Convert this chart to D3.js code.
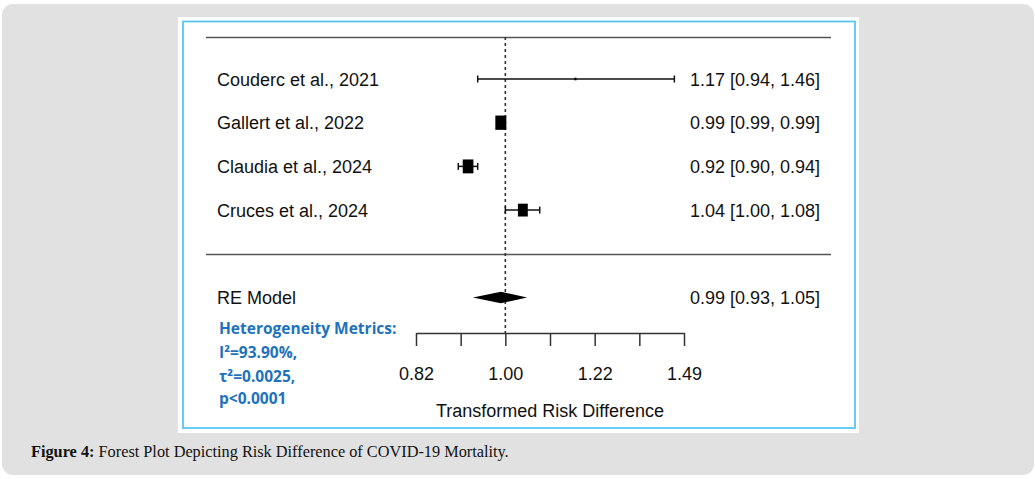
<!DOCTYPE html>
<html>
<head>
<meta charset="utf-8">
<script src="https://cdn.jsdelivr.net/npm/d3@7"></script>
<style>
    body { margin: 0; background: #ffffff; }
    svg { display: block; }
</style>
</head>
<body>
<svg width="1035" height="479"></svg>
<script>
var studies = ['Couderc et al., 2021', 'Gallert et al., 2022', 'Claudia et al., 2024', 'Cruces et al., 2024'];
var estimates = [1.17, 0.99, 0.92, 1.04];
var lowers = [0.94, 0.99, 0.90, 1.00];
var uppers = [1.46, 0.99, 0.94, 1.08];
var weights = [1, 36, 34, 29];
var studyLabels = ['1.17 [0.94, 1.46]', '0.99 [0.99, 0.99]', '0.92 [0.90, 0.94]', '1.04 [1.00, 1.08]'];

var reModel = {label: 'RE Model', est: 0.99, lower: 0.93, upper: 1.05, text: '0.99 [0.93, 1.05]'};
var logTicks = [-0.2, -0.1, 0, 0.1, 0.2, 0.3, 0.4];
var labelledTicks = [-0.2, 0, 0.2, 0.4];
var hetLines = ['Heterogeneity Metrics:', 'I\u00b2=93.90%,', '\u03c4\u00b2=0.0025,', 'p<0.0001'];

var svg = d3.select('svg');
var FONT = 'Liberation Sans, Arial, sans-serif';

// background panels
svg.append('rect')
    .attr('x', 2).attr('y', 4).attr('width', 1032).attr('height', 471)
    .attr('rx', 11).attr('fill', '#e1e1e1');
svg.append('rect')
    .attr('x', 178).attr('y', 17).attr('width', 681).attr('height', 416)
    .attr('fill', '#ffffff');
svg.append('rect')
    .attr('x', 183).attr('y', 21.5).attr('width', 672).attr('height', 406.5)
    .attr('fill', 'none').attr('stroke', '#55c7f3').attr('stroke-width', 1.8);

var x = d3.scaleLog()
    .domain([Math.exp(-0.2), Math.exp(0.4)])
    .range([416, 684]);
var y = d3.scaleLinear()
    .domain([0, 5])
    .range([79, 297.5]);
var size = d3.scaleSqrt()
    .domain([0, 36])
    .range([0, 11]);

// horizontal rules
[-0.96, 4].forEach(function (r) {
    var yy = Math.round(y(r)) + 0.5;
    svg.append('line')
        .attr('x1', 206).attr('x2', 831)
        .attr('y1', yy).attr('y2', yy)
        .attr('stroke', '#555').attr('stroke-width', 1.5);
});

// reference line at 1
svg.append('line')
    .attr('x1', x(1)).attr('x2', x(1))
    .attr('y1', 37).attr('y2', 333)
    .attr('stroke', '#333').attr('stroke-width', 1.6)
    .attr('stroke-dasharray', '3,3');

var rows = studies.map(function (s, i) {
    return {name: s, est: estimates[i], lo: lowers[i], hi: uppers[i], w: weights[i], text: studyLabels[i], i: i};
});

var g = svg.selectAll('g.row')
    .data(rows)
    .enter()
    .append('g')
    .attr('class', 'row');

g.append('text')
    .attr('x', 217)
    .attr('y', function (d) { return y(d.i) + 6.5; })
    .style('font-family', FONT).style('font-size', '18px').attr('fill', '#111')
    .text(function (d) { return d.name; });

g.append('text')
    .attr('x', 820)
    .attr('y', function (d) { return y(d.i) + 6.5; })
    .attr('text-anchor', 'end')
    .style('font-family', FONT).style('font-size', '18px').attr('fill', '#111')
    .text(function (d) { return d.text; });

// confidence intervals with end caps
g.filter(function (d) { return d.hi > d.lo; })
    .each(function (d) {
        var el = d3.select(this);
        var yy = y(d.i);
        el.append('line')
            .attr('x1', x(d.lo)).attr('x2', x(d.hi))
            .attr('y1', yy).attr('y2', yy)
            .attr('stroke', '#111').attr('stroke-width', 1.5);
        [d.lo, d.hi].forEach(function (v) {
            el.append('line')
                .attr('x1', x(v)).attr('x2', x(v))
                .attr('y1', yy - 3.5).attr('y2', yy + 3.5)
                .attr('stroke', '#111').attr('stroke-width', 1.5);
        });
    });

g.append('rect')
    .attr('x', function (d) { return x(d.est) - Math.max(size(d.w), 2) / 2; })
    .attr('y', function (d) { return y(d.i) - Math.max(size(d.w), 2) * 0.65; })
    .attr('width', function (d) { return Math.max(size(d.w), 2); })
    .attr('height', function (d) { return Math.max(size(d.w), 2) * 1.3; })
    .attr('fill', '#000');

// summary row
var yRe = y(5);
svg.append('text')
    .attr('x', 217).attr('y', yRe + 6.5)
    .style('font-family', FONT).style('font-size', '18px').attr('fill', '#111')
    .text(reModel.label);
svg.append('text')
    .attr('x', 820).attr('y', yRe + 6.5)
    .attr('text-anchor', 'end')
    .style('font-family', FONT).style('font-size', '18px').attr('fill', '#111')
    .text(reModel.text);
svg.append('polygon')
    .attr('points', [
        [x(reModel.lower), yRe],
        [x(reModel.est), yRe - 5.8],
        [x(reModel.upper), yRe],
        [x(reModel.est), yRe + 5.8]
    ].map(function (p) { return p.join(','); }).join(' '))
    .attr('fill', '#000');

// axis
var axis = d3.axisBottom(x)
    .tickValues(logTicks.map(function (t) { return Math.exp(t); }))
    .tickSize(13)
    .tickSizeOuter(0)
    .tickPadding(21)
    .tickFormat(function (v) {
        var t = Math.round(Math.log(v) * 10) / 10;
        return labelledTicks.indexOf(t) >= 0 ? d3.format('.2f')(v) : '';
    });

var ax = svg.append('g')
    .attr('transform', 'translate(0,333)')
    .call(axis);
ax.select('.domain').attr('stroke', '#333').attr('stroke-width', 1.5);
ax.selectAll('.tick line').attr('stroke', '#333').attr('stroke-width', 1.5);
ax.selectAll('.tick text')
    .style('font-family', FONT).style('font-size', '18px').attr('fill', '#111');

svg.append('text')
    .attr('x', 550).attr('y', 417)
    .attr('text-anchor', 'middle')
    .style('font-family', FONT).style('font-size', '18px').attr('fill', '#111')
    .text('Transformed Risk Difference');

// heterogeneity note
svg.selectAll('text.het')
    .data(hetLines)
    .enter()
    .append('text')
    .attr('class', 'het')
    .attr('x', 219)
    .attr('y', function (d, i) { return [333.5, 357.5, 381.5, 403.5][i]; })
    .style('font-family', 'Open Sans, sans-serif')
    .style('font-size', '15.5px')
    .style('font-weight', 'bold')
    .attr('fill', '#1d72bd')
    .text(function (d) { return d; });

// caption
var cap = svg.append('text')
    .attr('x', 31).attr('y', 457)
    .style('font-family', 'Liberation Serif, serif')
    .style('font-size', '16.3px')
    .attr('fill', '#111');
cap.append('tspan').style('font-weight', 'bold').text('Figure 4:');
cap.append('tspan').text(' Forest Plot Depicting Risk Difference of COVID-19 Mortality.');
</script>
</body>
</html>
